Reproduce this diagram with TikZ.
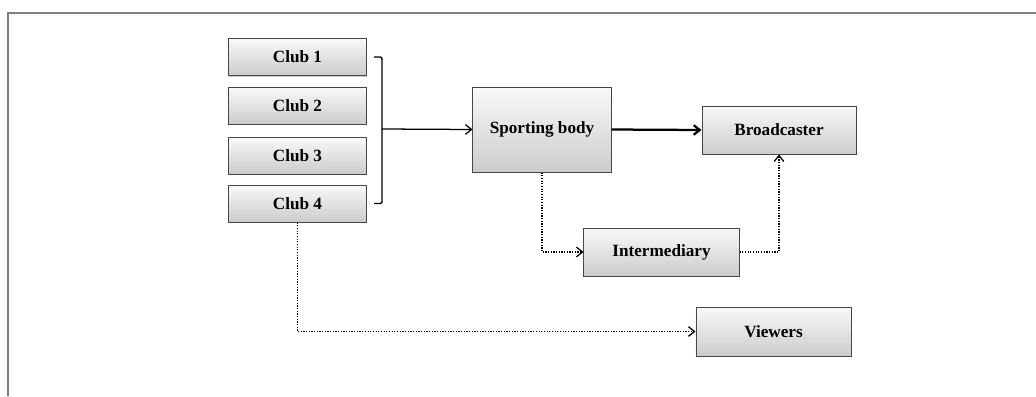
\documentclass[tikz,border=0pt]{standalone}
\usepackage{fontspec}
\setmainfont{Liberation Serif}
\usepackage{xcolor}
\usetikzlibrary{arrows.meta,shadows}
\definecolor{boxedge}{RGB}{70,70,70}
\definecolor{framegray}{RGB}{128,128,128}

\tikzset{
  block/.style={draw=boxedge, line width=0.7pt, top color=gray!5, bottom color=gray!40,
    drop shadow={shadow xshift=0.5pt, shadow yshift=-0.8pt, opacity=0.4},
    font=\fontsize{12.2}{14}\selectfont\bfseries, align=center, inner sep=2pt},
  link/.style={->, >={Straight Barb[length=1.5mm,width=2.4mm]}, line width=0.9pt},
  side/.style={link, densely dotted, line width=0.9pt}
}

\begin{document}
\begin{tikzpicture}[x=0.025cm, y=-0.025cm]
  \useasboundingbox (0,0) rectangle (1036,396);
  \draw[framegray, line width=1.4pt] (8,396) -- (8,13) -- (1036,13);

  % the four clubs
  \foreach \n/\y in {1/57, 2/105.5, 3/155.5, 4/203.5} {
    \node[block, minimum width=3.45cm, minimum height=0.925cm] (club\n) at (297.5,\y) {Club \n};
  }

  \node[block, minimum width=3.45cm, minimum height=2.125cm] (body) at (542,129.5) {Sporting body};
  \node[block, minimum width=3.85cm, minimum height=1.2cm] (bcast) at (779,130) {Broadcaster};
  \node[block, minimum width=3.875cm, minimum height=1.2cm] (inter) at (661.5,252) {Intermediary};
  \node[block, minimum width=3.875cm, minimum height=1.225cm] (view) at (773.5,331.5) {Viewers};

  % bracket joining the clubs
  \coordinate (join) at (382,129);
  \draw[line width=1pt, rounded corners=1pt] ([xshift=5pt]club1.east) -| (join) |- ([xshift=5pt]club4.east);
  \draw[link] (join) -- (body.west);

  % rights go to the broadcaster
  \draw[link, line width=1.6pt] (body.east) -- (bcast.west);
  % dotted side routes
  \draw[side] (body.south) |- (inter.west);
  \draw[side] (inter.east) -| (bcast.south);
  \draw[side] (club4.south) |- (view.west);
\end{tikzpicture}
\end{document}
